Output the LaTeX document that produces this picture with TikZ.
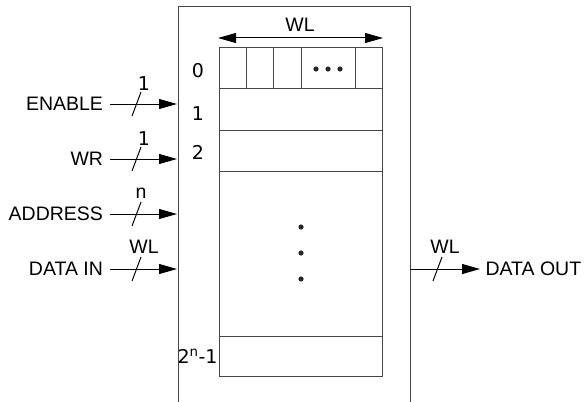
\documentclass[tikz,border=0pt]{standalone}
\usepackage{fontspec}
\setmainfont{Liberation Sans}
\newfontfamily\numfont{DejaVu Sans}
\usetikzlibrary{arrows.meta,positioning}
\definecolor{boxgray}{RGB}{70,70,70}

\begin{document}
\begin{tikzpicture}[x=1pt,y=-1pt, line width=1pt,
  every node/.style={font=\fontsize{19.5}{22}\selectfont, inner sep=0pt},
  num/.style={font=\fontsize{19}{22}\selectfont\numfont},
  sig/.style={-{Triangle[length=18pt,width=10pt]}},
  sigtxt/.style={anchor=east, inner xsep=6.5pt},
  wdth/.style={anchor=base}]
\useasboundingbox (0,0) rectangle (585,401);
% memory block
\draw[boxgray] (178,402) -- (178,7) -- (410,7) -- (410,402);
\draw[boxgray] (219,48) rectangle (382,376);
\draw[boxgray] (219,89) -- (382,89);
\draw[boxgray] (219,130) -- (382,130);
\draw[boxgray] (219,171) -- (382,171);
\draw[boxgray] (219,336) -- (382,336);
\draw[boxgray] (246,48) -- (246,89);
\draw[boxgray] (273,48) -- (273,89);
\draw[boxgray] (301,48) -- (301,89);
\draw[boxgray] (355,48) -- (355,89);
\fill[black!85] (316,69) circle (2.6) (328,69) circle (2.6) (340,69) circle (2.6);
\fill[black!85] (301,227) circle (2.6) (301,253) circle (2.6) (301,279) circle (2.6);
% word length
\coordinate (wl-l) at (218,38);
\coordinate (wl-r) at (383,38);
\draw[{Triangle[length=18pt,width=10pt]}-{Triangle[length=18pt,width=10pt]}] (wl-l) -- (wl-r);
\node (wl) at (300,25) {WL};
% row numbers
\node[num,anchor=base] (r0) at (198,77.5) {0};
\node[num,anchor=base] (r1) at (198,120) {1};
\node[num,anchor=base] (r2) at (198,159) {2};
\node[num,anchor=base east] (rn) at (218,363) {2\textsuperscript{n}-1};
% inputs
\node[sigtxt] (en) at (110,104) {ENABLE};
\node[sigtxt] (wr) at (110,159) {WR};
\node[sigtxt] (addr) at (110,214) {ADDRESS};
\node[sigtxt] (din) at (110,269) {DATA IN};
\coordinate (en-in) at (177,104);
\coordinate (wr-in) at (177,159);
\coordinate (addr-in) at (177,214);
\coordinate (din-in) at (177,269);
\draw[sig] (en) -- (en-in);
\draw[sig] (wr) -- (wr-in);
\draw[sig] (addr) -- (addr-in);
\draw[sig] (din) -- (din-in);
\draw (132,116) -- (141,92);
\draw (132,171) -- (141,147);
\draw (132,226) -- (141,202);
\draw (132,281) -- (141,257);
\node[num,wdth] (en-w) at (144,90.5) {1};
\node[num,wdth] (wr-w) at (144,145) {1};
\node[wdth] (addr-w) at (141,198) {n};
\node[wdth] (din-w) at (144,253) {WL};
% output
\coordinate (dout-o) at (410,269);
\node[anchor=west] (dout) at (485,269) {DATA OUT};
\draw[sig] (dout-o) -- ([xshift=-5pt]dout.west);
\draw (433,281) -- (442,257);
\node[wdth] (dout-w) at (445,253) {WL};
\end{tikzpicture}
\end{document}
